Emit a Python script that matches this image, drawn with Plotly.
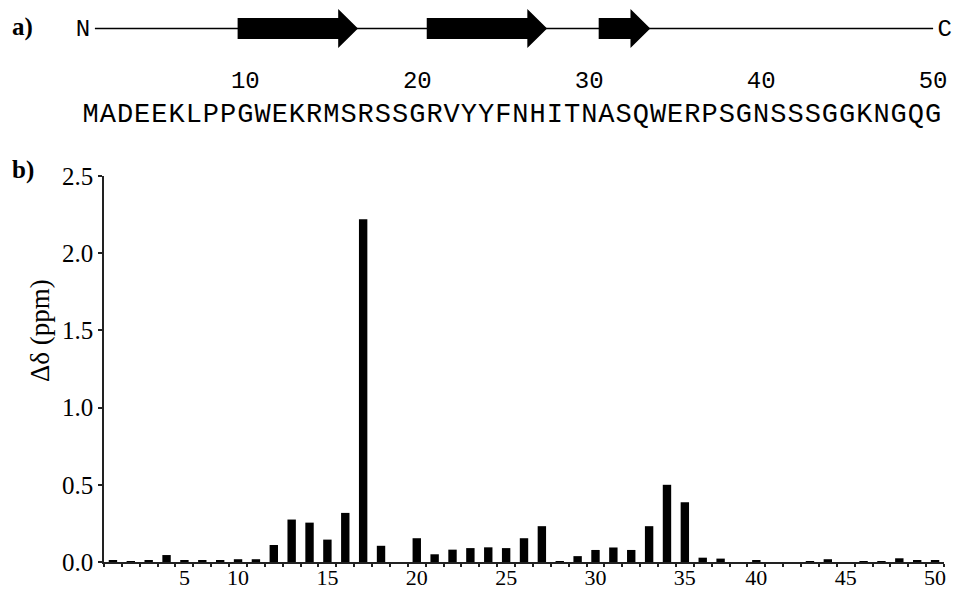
import plotly.graph_objects as go

# Protein sequence (one-letter code) and secondary structure
sequence = "MADEEKLPPGWEKRMSRSSGRVYYFNHITNASQWERPSGNSSSGGKNGQG"
strands = [(10, 16), (21, 27), (31, 33)]          # beta-strand residue ranges
seq_ticks = [10, 20, 30, 40, 50]

# Chemical shift perturbation per assigned residue (prolines have no amide H)
residues = [i + 1 for i, aa in enumerate(sequence) if aa != "P"]
shifts = [
    0.008, 0.003, 0.008, 0.045, 0.008, 0.008, 0.008,          # 1-7
    0.018, 0.018, 0.110, 0.275, 0.255, 0.145, 0.318,          # 10-16
    2.220, 0.105, 0.000, 0.154, 0.050, 0.080, 0.090,          # 17-23
    0.095, 0.090, 0.154, 0.232, 0.005, 0.038, 0.078,          # 24-30
    0.094, 0.078, 0.232, 0.500, 0.387, 0.028,                 # 31-36
    0.022, 0.000, 0.010, 0.000, 0.000, 0.004, 0.018,          # 38-44
    0.000, 0.004, 0.005, 0.024, 0.012, 0.012,                 # 45-50
]
x_labels = [str(r) for r in residues]
tick_text = [s if int(s) % 5 == 0 else "" for s in x_labels]

W, H = 955, 592
SERIF = "Liberation Serif"
MONO = "Liberation Mono"

fig = go.Figure()

# ---- panel b: bar chart ----
fig.add_trace(go.Bar(
    x=x_labels, y=shifts, marker=dict(color="black", line=dict(width=0)),
    xaxis="x", yaxis="y", showlegend=False,
))

# ---- panel a: sequence and secondary structure ----
backbone_y = 28.5
fig.add_trace(go.Scatter(
    x=[1.25, 50.0], y=[backbone_y, backbone_y], mode="lines",
    line=dict(color="black", width=1.5), xaxis="x2", yaxis="y2",
    showlegend=False, hoverinfo="skip",
))
fig.add_trace(go.Scatter(
    x=list(range(1, len(sequence) + 1)), y=[115] * len(sequence),
    text=list(sequence), mode="text", textposition="middle center",
    textfont=dict(family=MONO, size=27, color="black"),
    xaxis="x2", yaxis="y2", showlegend=False, hoverinfo="skip",
))
fig.add_trace(go.Scatter(
    x=seq_ticks, y=[82] * len(seq_ticks), text=[str(t) for t in seq_ticks],
    mode="text", textposition="middle center",
    textfont=dict(family=MONO, size=24, color="black"),
    xaxis="x2", yaxis="y2", showlegend=False, hoverinfo="skip",
))
fig.add_trace(go.Scatter(
    x=[0.55, 50.68], y=[30, 30], text=["N", "C"], mode="text",
    textposition="middle center",
    textfont=dict(family=MONO, size=24, color="black"),
    xaxis="x2", yaxis="y2", showlegend=False, hoverinfo="skip",
))

# strand arrows
shapes = []
body, head, head_len = 10.5, 19.5, 1.15
for s, e in strands:
    x0, x1 = s - 0.45, e + 0.55
    xh = x1 - head_len
    y = backbone_y
    path = (f"M {x0} {y - body} L {xh} {y - body} L {xh} {y - head} "
            f"L {x1} {y} L {xh} {y + head} L {xh} {y + body} L {x0} {y + body} Z")
    shapes.append(dict(type="path", path=path, xref="x2", yref="y2",
                       fillcolor="black", line=dict(width=0)))

# residue axis of panel a: residue 1 centred at 90.6 px, 17.194 px per residue
r0_px, step = 90.6, 17.194
x2_range = [1 - r0_px / step, 1 + (W - r0_px) / step]

label_common = dict(xref="paper", yref="paper", showarrow=False,
                    xanchor="center", yanchor="middle")
annotations = [
    dict(text="<b>a)</b>", x=22 / W, y=1 - 27 / H,
         font=dict(family=SERIF, size=25, color="black"), **label_common),
    dict(text="<b>b)</b>", x=23 / W, y=1 - 170 / H,
         font=dict(family=SERIF, size=25, color="black"), **label_common),
    dict(text="Δδ (ppm)", x=40 / W, y=1 - 331 / H, textangle=-90,
         font=dict(family=SERIF, size=27, color="black"), **label_common),
]

fig.update_layout(
    width=W, height=H, margin=dict(l=0, r=0, t=0, b=0),
    paper_bgcolor="white", plot_bgcolor="white",
    bargap=0.53,
    font=dict(family=SERIF, size=25, color="black"),
    xaxis=dict(
        domain=[104 / W, 944 / W], anchor="y", type="category",
        categoryorder="array", categoryarray=x_labels,
        range=[-0.5, len(x_labels) - 0.5], automargin=False,
        tickmode="array", tickvals=x_labels, ticktext=tick_text,
        tickangle=0, ticklabelstandoff=-5,
        tickson="boundaries", ticks="outside", ticklen=3, tickwidth=1.5,
        tickcolor="#222", showline=True, linecolor="#222", linewidth=1.6,
        showgrid=False, zeroline=False,
        tickfont=dict(family=SERIF, size=22, color="black"),
    ),
    yaxis=dict(
        domain=[(H - 562) / H, (H - 176) / H], anchor="x", automargin=False,
        range=[0, 2.5], dtick=0.5, tick0=0, tickformat=".1f",
        ticks="outside", ticklen=4, tickwidth=1.5, tickcolor="#222",
        showline=True, linecolor="#222", linewidth=1.6,
        showgrid=False, zeroline=False,
        tickfont=dict(family=SERIF, size=25, color="black"),
    ),
    xaxis2=dict(domain=[0, 1], anchor="y2", range=x2_range, visible=False,
                automargin=False),
    yaxis2=dict(domain=[1 - 130 / H, 1], anchor="x2", range=[130, 0],
                visible=False, automargin=False),
    shapes=shapes,
    annotations=annotations,
)

fig.write_html("out.html")
